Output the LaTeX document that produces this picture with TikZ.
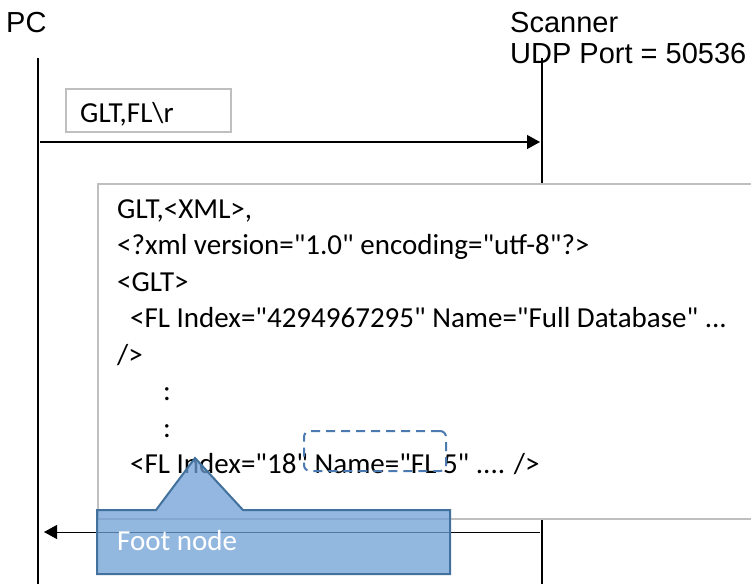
\documentclass[tikz,border=0pt]{standalone}
\usepackage{fontspec}
\setmainfont{Liberation Sans}
\newfontfamily\calfont{Carlito}
\usetikzlibrary{arrows.meta}
\definecolor{boxgray}{RGB}{191,191,191}
\definecolor{calloutblue}{RGB}{111,160,214}
\definecolor{calloutedge}{RGB}{65,113,156}
\definecolor{dashblue}{RGB}{74,122,176}

\begin{document}
\begin{tikzpicture}[x=1pt,y=-1pt,
    lifeline/.style={line width=2.5pt},
    msg/.style={line width=1.2pt,-{Triangle[length=13pt,width=14pt]}},
    actor/.style={anchor=base west,inner sep=0pt,font=\fontsize{29}{31}\selectfont},
    xmlline/.style={anchor=base west,inner sep=0pt,font=\calfont\fontsize{29}{36}\selectfont}]
    \clip (0,0) rectangle (751,584);
    % actors
    \node[actor] (pc) at (6,32) {PC};
    \node[actor] (scanner) at (510,32) {Scanner};
    \node[actor] (port) at (510,63) {UDP Port = 50536};
    % lifelines
    \coordinate (pc top) at (38,58);
    \coordinate (pc bot) at (38,584);
    \coordinate (sc top) at (542,58);
    \coordinate (sc bot) at (542,584);
    \draw[lifeline] (pc top) -- (pc bot);
    \draw[lifeline] (sc top) -- (sc bot);
    % request
    \coordinate (req from) at (40,142);
    \coordinate (req to) at (540,142);
    \draw[msg] (req from) -- (req to);
    \node[draw=boxgray,line width=1.5pt,minimum width=165pt,minimum height=43pt,
        inner sep=0pt,anchor=north west] (req) at (65,88) {};
    \node[xmlline] (reqtext) at (80,122) {GLT,FL\textbackslash r};
    % reply
    \node[draw=boxgray,fill=white,line width=1.5pt,minimum width=720pt,minimum height=335pt,
        inner sep=0pt,anchor=north west] (reply) at (97,183) {};
    \node[xmlline] (l1) at (117,218) {GLT,<XML>,};
    \node[xmlline] (l2) at (117,254.5) {<?xml version="1.0" encoding="utf-8"?>};
    \node[xmlline] (l3) at (117,291) {<GLT>};
    \node[xmlline] (l4) at (130,327.5) {<FL Index="4294967295" Name="Full Database" ...};
    \node[xmlline] (l5) at (117,364) {/>};
    \node[xmlline] (l6) at (163,400.5) {:};
    \node[xmlline] (l7) at (163,437) {:};
    \node[xmlline] (l8) at (130,473.5) {<FL Index="18" Name="FL 5" .... />};
    \node[draw=dashblue,dash pattern=on 9pt off 6pt,line width=2pt,rounded corners=6pt,
        minimum width=142pt,minimum height=40pt,inner sep=0pt,anchor=north west] (hilite) at (303,430) {};
    \coordinate (rep from) at (540,532);
    \coordinate (rep to) at (44,532);
    \draw[msg,line width=1pt] (rep from) -- (rep to);
    % foot node
    \filldraw[fill=calloutblue,fill opacity=0.75,draw=calloutedge,line width=2pt]
        (97,510) -- (156,510) -- (195,458) -- (243,510) -- (450,510) -- (450,574) -- (97,574) -- cycle;
    \node[anchor=base west,inner sep=0pt,text=white,font=\calfont\fontsize{29}{31}\selectfont] (foot) at (117,550) {Foot node};
\end{tikzpicture}
\end{document}
